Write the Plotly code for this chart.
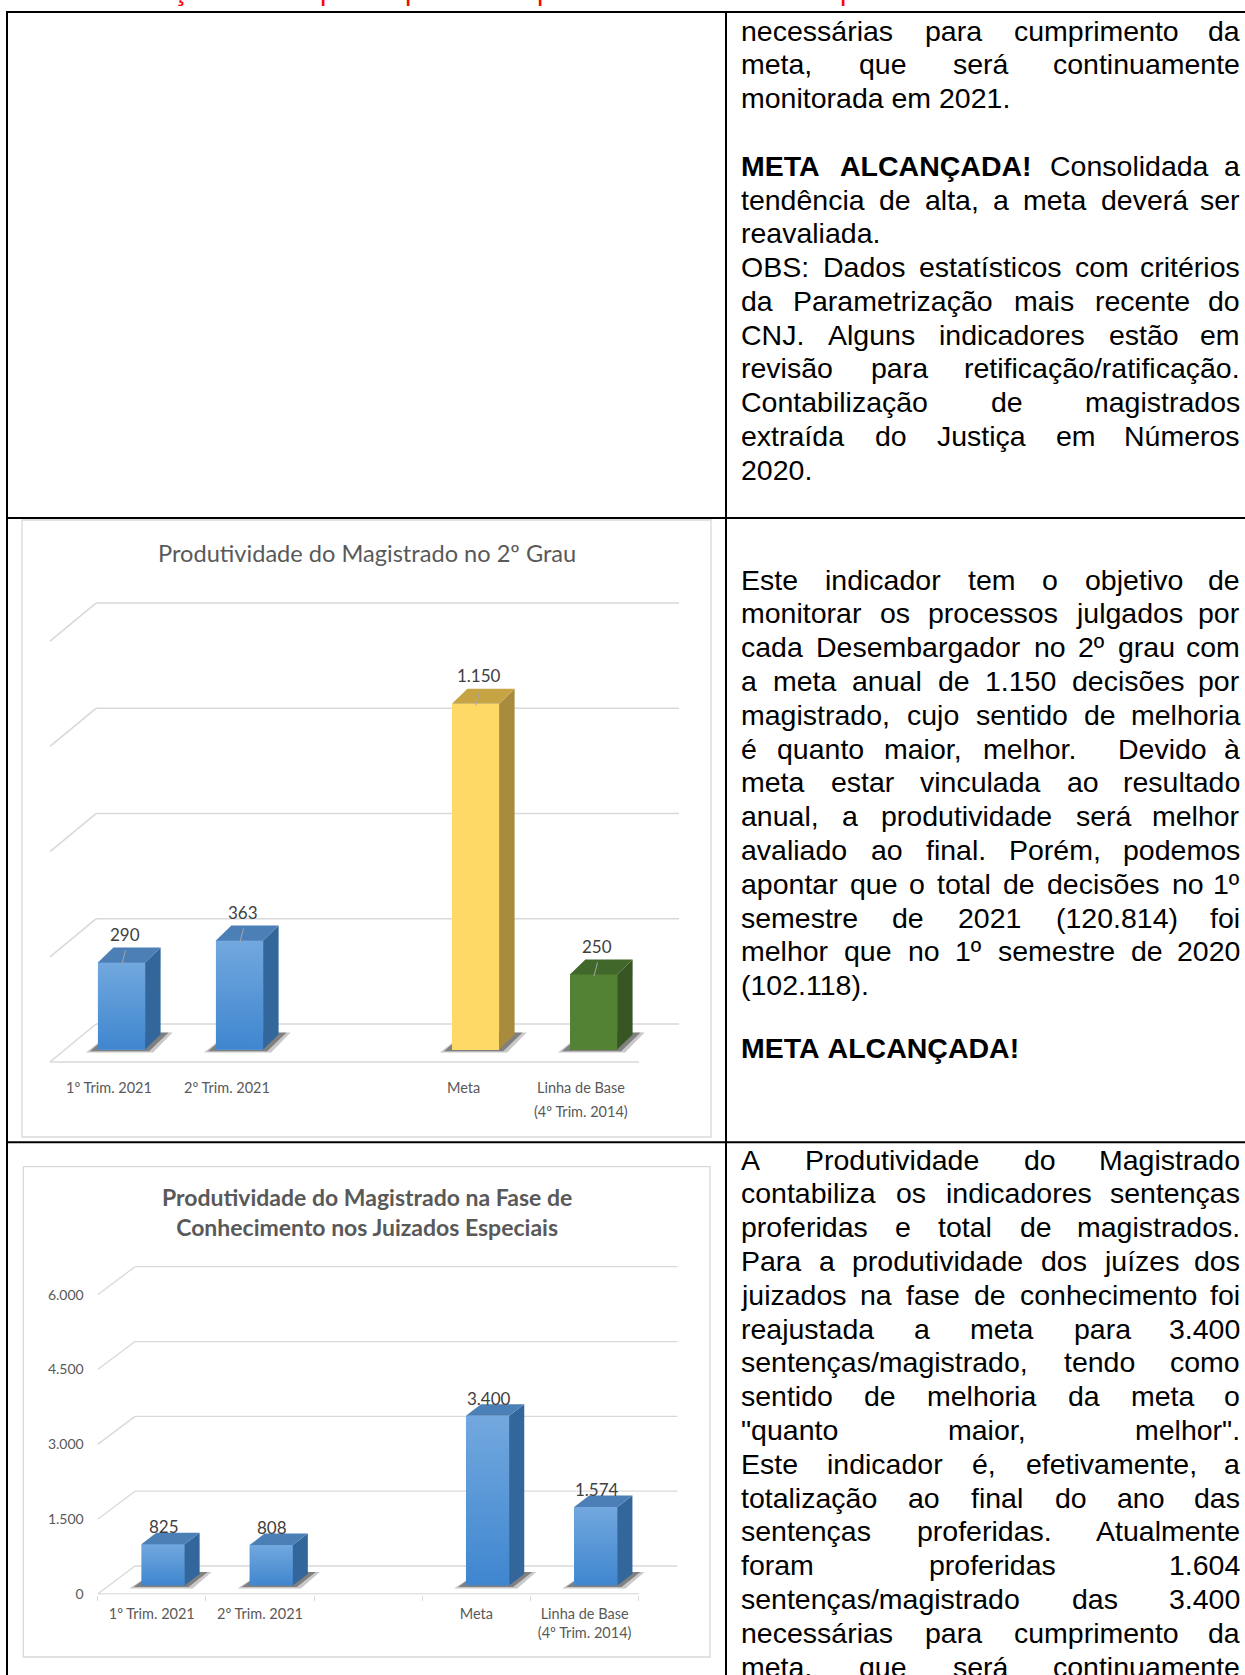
import plotly.graph_objects as go

W, H = 1245, 1675

# ---------------- data ----------------
chart1_title = "Produtividade do Magistrado no 2º Grau"
chart1_categories = ["1º Trim. 2021", "2º Trim. 2021", "", "Meta", "Linha de Base<br>(4º Trim. 2014)"]
chart1_values = [290, 363, None, 1150, 250]
chart1_grid_values = [0, 350, 700, 1050, 1400]

chart2_title = "Produtividade do Magistrado na Fase de<br>Conhecimento nos Juizados Especiais"
chart2_categories = ["1º Trim. 2021", "2º Trim. 2021", "", "Meta", "Linha de Base<br>(4º Trim. 2014)"]
chart2_values = [825, 808, None, 3400, 1574]
chart2_tick_values = [0, 1500, 3000, 4500, 6000]
chart2_tick_labels = ["0", "1.500", "3.000", "4.500", "6.000"]

# text of the right column (J = justified line, L = last line of paragraph; *word = bold)
row1_text = [
    ("necessárias para cumprimento da", "J"),
    ("meta, que será continuamente", "J"),
    ("monitorada em 2021.", "L"),
    None,
    ("*META *ALCANÇADA! Consolidada a", "J"),
    ("tendência de alta, a meta deverá ser", "J"),
    ("reavaliada.", "L"),
    ("OBS: Dados estatísticos com critérios", "J"),
    ("da Parametrização mais recente do", "J"),
    ("CNJ. Alguns indicadores estão em", "J"),
    ("revisão para retificação/ratificação.", "J"),
    ("Contabilização de magistrados", "J"),
    ("extraída do Justiça em Números", "J"),
    ("2020.", "L"),
]
row2_text = [
    ("Este indicador tem o objetivo de", "J"),
    ("monitorar os processos julgados por", "J"),
    ("cada Desembargador no 2º grau com", "J"),
    ("a meta anual de 1.150 decisões por", "J"),
    ("magistrado, cujo sentido de melhoria", "J"),
    ("é quanto maior, melhor.  Devido à", "J"),
    ("meta estar vinculada ao resultado", "J"),
    ("anual, a produtividade será melhor", "J"),
    ("avaliado ao final. Porém, podemos", "J"),
    ("apontar que o total de decisões no 1º", "J"),
    ("semestre de 2021 (120.814) foi", "J"),
    ("melhor que no 1º semestre de 2020", "J"),
    ("(102.118).", "L"),
]
row2_tail = [("*META *ALCANÇADA!", "L")]
row3_text = [
    ("A Produtividade do Magistrado", "J"),
    ("contabiliza os indicadores sentenças", "J"),
    ("proferidas e total de magistrados.", "J"),
    ("Para a produtividade dos juízes dos", "J"),
    ("juizados na fase de conhecimento foi", "J"),
    ("reajustada a meta para 3.400", "J"),
    ("sentenças/magistrado, tendo como", "J"),
    ("sentido de melhoria da meta o", "J"),
    ("\"quanto maior, melhor\".", "J"),
    ("Este indicador é, efetivamente, a", "J"),
    ("totalização ao final do ano das", "J"),
    ("sentenças proferidas. Atualmente", "J"),
    ("foram proferidas 1.604", "J"),
    ("sentenças/magistrado das 3.400", "J"),
    ("necessárias para cumprimento da", "J"),
    ("meta, que será continuamente", "J"),
]

# ---------------- styles / geometry ----------------
BODY_FONT = "Liberation Sans, Arial, sans-serif"
CHART_FONT = "Lato, Calibri, sans-serif"
BODY_SIZE = 28.5
GRID = "#d9d9d9"

BLUE = dict(front="#5797d8", side="#33669a", top="#4b7fb5", grad=("#3f86cf", "#72a8de"))
YELLOW = dict(front="#ffd966", side="#a88b3d", top="#c6a444", grad=None)
GREEN = dict(front="#548235", side="#375623", top="#42672b", grad=None)
chart1_styles = [BLUE, BLUE, None, YELLOW, GREEN]
chart2_styles = [BLUE, BLUE, None, BLUE, BLUE]

G1 = dict(xa="x", ya="y", cx0=121.5, cw=118.0, y0=1049.6, s=0.3007, bw=0.4,
          sdx=15.5, sdy=15.0, back_y0=1024.0, back_left=96.0, back_right=679.0,
          front_y0=1062.0, front_left=50.0, front_right=639.0,
          area=(30.0, 585.0, 705.0, 1068.0), lab_dx=3.0, lab_dy=28.0, grid_w=1.6)
G2 = dict(xa="x2", ya="y2", cx0=163.0, cw=108.2, y0=1585.4, s=0.04988, bw=0.4,
          sdx=15.0, sdy=11.5, back_y0=1566.0, back_left=135.0, back_right=677.4,
          front_y0=1594.0, front_left=97.7, front_right=638.7,
          area=(97.7, 1255.0, 705.0, 1594.5), lab_dx=1.0, lab_dy=17.5, grid_w=1.3)


def xd(g, p):
    return (p - g["cx0"]) / g["cw"]


def yd(g, p):
    return (g["y0"] - p) / g["s"]


def PX(p):
    return p / W


def PY(p):
    return 1 - p / H


fig = go.Figure()
shapes = []
annotations = []


def axis_pair(g):
    x0, y0, x1, y1 = g["area"]
    xa = dict(domain=[PX(x0), PX(x1)], range=[xd(g, x0), xd(g, x1)], showgrid=False,
              zeroline=False, showticklabels=False, ticks="", showline=False,
              fixedrange=True, automargin=False)
    ya = dict(domain=[PY(y1), PY(y0)], range=[yd(g, y1), yd(g, y0)], showgrid=False,
              zeroline=False, showticklabels=False, ticks="", showline=False,
              fixedrange=True, automargin=False)
    return xa, ya


def add_chart(g, values, styles, grid_values, floor_edge):
    xa, ya = g["xa"], g["ya"]
    depth = g["front_y0"] - g["back_y0"]
    line = dict(color=GRID, width=g["grid_w"])
    for v in grid_values:
        yb = g["back_y0"] - v * g["s"]
        shapes.append(dict(type="line", xref=xa, yref=ya, layer="below", line=line,
                           x0=xd(g, g["back_left"]), y0=yd(g, yb),
                           x1=xd(g, g["back_right"]), y1=yd(g, yb)))
        shapes.append(dict(type="line", xref=xa, yref=ya, layer="below", line=line,
                           x0=xd(g, g["back_left"]), y0=yd(g, yb),
                           x1=xd(g, g["front_left"]), y1=yd(g, yb + depth)))
    if floor_edge:
        shapes.append(dict(type="line", xref=xa, yref=ya, layer="below", line=line,
                           x0=xd(g, g["front_left"]), y0=yd(g, g["front_y0"]),
                           x1=xd(g, g["front_right"]), y1=yd(g, g["front_y0"])))
    cw, s, bw = g["cw"], g["s"], g["bw"]
    ddx, ddy = g["sdx"] / cw, g["sdy"] / s
    xs, ys, cols = [], [], []
    for i, v in enumerate(values):
        if v is None:
            continue
        xs.append(i)
        ys.append(v)
        cols.append(styles[i]["front"])
        xl, xr = i - bw / 2, i + bw / 2
        # soft floor shadow (two layers)
        for grow, alpha in [(6, 0.25), (2, 0.45)]:
            pts = [(xl - (6 + grow) / cw, -(1 + grow / 3) / s), (xr + (2 + grow) / cw, -(1 + grow / 3) / s),
                   (xr + ddx + (6 + grow) / cw, ddy + 2 / s), (xl + ddx - 2 / cw, ddy + 2 / s)]
            path = "M " + " L ".join(f"{a},{b}" for a, b in pts) + " Z"
            shapes.append(dict(type="path", xref=xa, yref=ya, layer="below", path=path,
                               fillcolor=f"rgba(40,40,40,{alpha})", line=dict(width=0)))
    fig.add_trace(go.Bar(x=xs, y=ys, width=bw, marker=dict(color=cols, line=dict(width=0)),
                         xaxis=xa, yaxis=ya, hoverinfo="skip", showlegend=False))
    for i, v in enumerate(values):
        if v is None:
            continue
        xl, xr = i - bw / 2, i + bw / 2
        st = styles[i]
        if st["grad"]:
            fig.add_trace(go.Scatter(
                x=[xl, xr, xr, xl, xl], y=[0, 0, v, v, 0], fill="toself", mode="lines",
                line=dict(width=0), fillgradient=dict(type="vertical",
                                                      colorscale=[[0, st["grad"][0]], [1, st["grad"][1]]]),
                xaxis=xa, yaxis=ya, hoverinfo="skip", showlegend=False))
        fig.add_trace(go.Scatter(
            x=[xr, xr + ddx, xr + ddx, xr, xr], y=[0, ddy, v + ddy, v, 0],
            fill="toself", fillcolor=st["side"], mode="lines", line=dict(width=0),
            xaxis=xa, yaxis=ya, hoverinfo="skip", showlegend=False))
        fig.add_trace(go.Scatter(
            x=[xl, xr, xr + ddx, xl + ddx, xl], y=[v, v, v + ddy, v + ddy, v],
            fill="toself", fillcolor=st["top"], mode="lines", line=dict(width=0),
            xaxis=xa, yaxis=ya, hoverinfo="skip", showlegend=False))
        annotations.append(dict(
            x=i + g["lab_dx"] / cw, y=v + g["lab_dy"] / s, xref=xa, yref=ya,
            text=f"{v:,}".replace(",", "."), showarrow=False, xanchor="center",
            yanchor="middle", font=dict(family=CHART_FONT, size=17, color="#404040")))


# chart 1
xa1, ya1 = axis_pair(G1)
add_chart(G1, chart1_values, chart1_styles, chart1_grid_values, True)
for i, v in enumerate(chart1_values):
    if v is None:
        continue
    top = G1["y0"] - v * G1["s"]
    shapes.append(dict(type="line", xref="x", yref="y", layer="above",
                       line=dict(color="#a6a6a6", width=1),
                       x0=i + 4 / G1["cw"], y0=yd(G1, top - 12),
                       x1=i + 0.5 / G1["cw"], y1=yd(G1, top + 1.5)))
for i, lab in enumerate(chart1_categories):
    if not lab:
        continue
    for j, part in enumerate(lab.split("<br>")):
        annotations.append(dict(
            x=xd(G1, G1["front_left"] + G1["cw"] * (i + 0.5)), y=PY(1087 + 24.6 * j),
            xref="x", yref="paper", text=part, showarrow=False, xanchor="center",
            yanchor="middle", font=dict(family=CHART_FONT, size=14.5, color="#595959")))
annotations.append(dict(x=PX(366.5), y=PY(552.5), xref="paper", yref="paper",
                        text=chart1_title, showarrow=False, xanchor="center", yanchor="middle",
                        font=dict(family=CHART_FONT, size=23.6, color="#595959")))

# chart 2
xa2, ya2 = axis_pair(G2)
add_chart(G2, chart2_values, chart2_styles, chart2_tick_values, False)
x0, y0a, x1, y1a = G2["area"]
xa2.update(showticklabels=True,
           tickvals=[xd(G2, G2["front_left"] + G2["cw"] * (i + 0.5))
                     for i, lab in enumerate(chart2_categories) if lab],
           ticktext=[lab for lab in chart2_categories if lab],
           tickfont=dict(family=CHART_FONT, size=14.5, color="#595959"),
           ticklabelstandoff=9,
           minor=dict(tickvals=[xd(G2, G2["front_left"] + G2["cw"] * k)
                                for k in range(len(chart2_categories) + 1)],
                      ticks="outside", ticklen=5, tickcolor=GRID, tickwidth=1.3, showgrid=False),
           anchor="y2")
ya2.update(anchor="x2")


def yf(p):
    return (G2["front_y0"] - p) / G2["s"]


ya3 = dict(domain=ya2["domain"], range=[yf(y1a), yf(y0a)], overlaying="y2", anchor="x2",
           side="left", showgrid=False, zeroline=False, showline=False, ticks="",
           tickvals=chart2_tick_values, ticktext=chart2_tick_labels,
           tickfont=dict(family=CHART_FONT, size=14, color="#595959"),
           ticklabelstandoff=13, fixedrange=True, automargin=False)
# front axis line (value 0 of the front plane)
fig.add_trace(go.Scatter(x=[xd(G2, G2["front_left"]), xd(G2, G2["front_right"])], y=[0, 0],
                         mode="lines", line=dict(color=GRID, width=1.3), xaxis="x2", yaxis="y3",
                         hoverinfo="skip", showlegend=False))
annotations.append(dict(x=PX(367), y=PY(1211.6), xref="paper", yref="paper",
                        text="<b>" + chart2_title.replace("<br>", "</b><br><b>") + "</b>",
                        showarrow=False, xanchor="center", yanchor="middle",
                        font=dict(family=CHART_FONT, size=23, color="#595959")))

# ---------------- body text (justified) ----------------
REG = {' ': 278, '!': 278, '"': 355, '(': 333, ')': 333, ',': 278, '-': 333, '.': 278,
       '/': 278, ':': 278, 'º': 365,
       'A': 667, 'B': 667, 'C': 722, 'D': 722, 'E': 667, 'F': 611, 'G': 778, 'H': 722,
       'I': 278, 'J': 500, 'K': 667, 'L': 556, 'M': 833, 'N': 722, 'O': 778, 'P': 667,
       'Q': 778, 'R': 722, 'S': 667, 'T': 611, 'U': 722, 'V': 667, 'W': 944, 'X': 667,
       'Y': 667, 'Z': 611,
       'a': 556, 'b': 556, 'c': 500, 'd': 556, 'e': 556, 'f': 278, 'g': 556, 'h': 556,
       'i': 222, 'j': 222, 'k': 500, 'l': 222, 'm': 833, 'n': 556, 'o': 556, 'p': 556,
       'q': 556, 'r': 333, 's': 500, 't': 278, 'u': 556, 'v': 500, 'w': 722, 'x': 500,
       'y': 500, 'z': 500, 'á': 556, 'à': 556, 'â': 556, 'ã': 556, 'é': 556, 'ê': 556,
       'í': 278, 'ó': 556, 'ô': 556, 'õ': 556, 'ú': 556, 'ç': 500, 'Ç': 722}
for d in "0123456789":
    REG[d] = 556
BOLD = {' ': 278, '!': 333, 'A': 722, 'C': 722, 'D': 722, 'E': 667, 'L': 611, 'M': 833,
        'N': 722, 'T': 611, 'Ç': 722}

TL, TR = 740.0, 1241.0


def width(word, bold):
    tbl = BOLD if bold else REG
    return sum(tbl.get(ch, 556) for ch in word) / 1000 * BODY_SIZE


def text_ann(x, baseline, text, anchor="left"):
    annotations.append(dict(x=PX(x), y=PY(baseline - 0.905 * BODY_SIZE), xref="paper",
                            yref="paper", text=text, showarrow=False, xanchor=anchor,
                            yanchor="top", borderpad=0,
                            font=dict(family=BODY_FONT, size=BODY_SIZE, color="#000000")))


def fmt(word, bold):
    return f"<b>{word}</b>" if bold else word


def place_line(line, mode, baseline):
    words = []
    for w in line.split(" "):
        bold = w.startswith("*")
        words.append((w.lstrip("*"), bold))
    if mode == "L":
        txt = " ".join(fmt(w, b) for w, b in words)
        text_ann(TL, baseline, txt)
        return
    widths = [width(w, b) for w, b in words]
    gap = (TR - TL - sum(widths)) / max(len(words) - 1, 1)
    x = TL
    for k, ((w, b), wd) in enumerate(zip(words, widths)):
        if w:
            if k == len(words) - 1 and k > 0:
                text_ann(TR, baseline, fmt(w, b), anchor="right")
            else:
                text_ann(x, baseline, fmt(w, b))
        x += wd + gap


PITCH = 33.8
for k, item in enumerate(row1_text):
    if item:
        place_line(item[0], item[1], 39.5 + 33.77 * k)
for k, item in enumerate(row2_text):
    place_line(item[0], item[1], 588.3 + PITCH * k)
for item in row2_tail:
    place_line(item[0], item[1], 1056.7)
for k, item in enumerate(row3_text):
    place_line(item[0], item[1], 1168.4 + PITCH * k)

# cut-off red line above the table (only descenders visible)
for ch, x in [("ç", 172), ("p", 319), ("p", 404), ("p", 536), ("p", 839)]:
    annotations.append(dict(x=PX(x), y=PY(-1 - 0.905 * BODY_SIZE), xref="paper", yref="paper",
                            text=ch, showarrow=False, xanchor="left", yanchor="top", borderpad=0,
                            font=dict(family=BODY_FONT, size=BODY_SIZE, color="#ff0000")))

# ---------------- table & chart frames ----------------
BL = dict(color="#000000", width=2)
for y in [12, 518, 1142.3]:
    shapes.append(dict(type="line", xref="paper", yref="paper", layer="above", line=BL,
                       x0=PX(6), x1=PX(1245), y0=PY(y), y1=PY(y)))
for x in [7, 726]:
    shapes.append(dict(type="line", xref="paper", yref="paper", layer="above", line=BL,
                       x0=PX(x), x1=PX(x), y0=PY(11), y1=PY(1676)))
for (bx0, by0, bx1, by1) in [(22, 520, 711, 1137), (23.3, 1166.6, 710, 1657)]:
    shapes.append(dict(type="rect", xref="paper", yref="paper", layer="below",
                       line=dict(color=GRID, width=1.3), fillcolor="rgba(0,0,0,0)",
                       x0=PX(bx0), x1=PX(bx1), y0=PY(by1), y1=PY(by0)))

fig.update_layout(
    width=W, height=H, margin=dict(l=0, r=0, t=0, b=0, pad=0),
    paper_bgcolor="#ffffff", plot_bgcolor="rgba(0,0,0,0)", showlegend=False,
    bargap=0, xaxis=xa1, yaxis=ya1, xaxis2=xa2, yaxis2=ya2, yaxis3=ya3,
    shapes=shapes, annotations=annotations, hovermode=False,
)

fig.write_html("out.html", config={"displayModeBar": False},
               post_script="document.body.style.margin='0';document.body.style.overflow='hidden';")
